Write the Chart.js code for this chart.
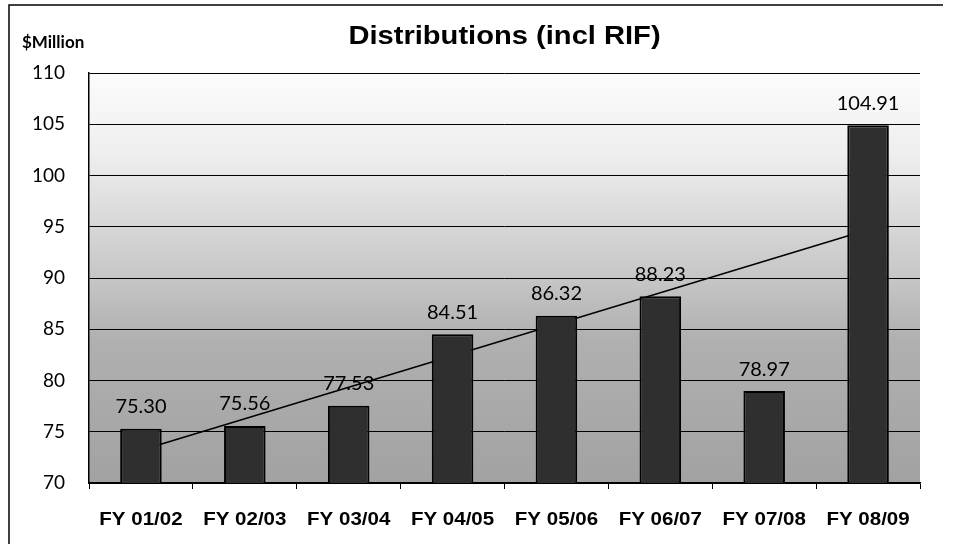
<!DOCTYPE html>
<html>
<head>
<meta charset="utf-8">
<script src="https://cdn.jsdelivr.net/npm/chart.js@4.4.1/dist/chart.umd.min.js"></script>
<style>
  html, body { margin: 0; padding: 0; background: #fff; }
  #wrap { width: 956px; height: 544px; position: relative; }
</style>
</head>
<body>
<div id="wrap"><canvas id="myChart" width="956" height="544"></canvas></div>
<script>
var labels = ['FY 01/02', 'FY 02/03', 'FY 03/04', 'FY 04/05', 'FY 05/06', 'FY 06/07', 'FY 07/08', 'FY 08/09'];
var distributions = [75.30, 75.56, 77.53, 84.51, 86.32, 88.23, 78.97, 104.91];
// trend line at first and last category
var trend = [73.2, null, null, null, null, null, null, 94.7];
var yTicks = [70, 75, 80, 85, 90, 95, 100, 105, 110];

const numFont = 'Lato, "DejaVu Sans", sans-serif';
const boldFont = '"Liberation Sans", Arial, sans-serif';

// text drawn a bit wider, like the scanned original
function wideText(c, txt, x, y, sx) {
  c.save();
  c.translate(x, y);
  c.scale(sx, 1);
  c.fillText(txt, 0, 0);
  c.restore();
}

// stippled background + frame + titles + labels
const decor = {
  id: 'decor',
  beforeDraw(chart) {
    const c = chart.ctx, a = chart.chartArea;
    c.save();
    const g = c.createLinearGradient(0, a.bottom, 0, a.top);
    g.addColorStop(0, '#a2a2a2');
    g.addColorStop(0.35, '#b0b0b0');
    g.addColorStop(0.5, '#c6c6c6');
    g.addColorStop(0.65, '#dadada');
    g.addColorStop(0.8, '#eeeeee');
    g.addColorStop(1, '#fcfcfc');
    c.fillStyle = g;
    c.fillRect(a.left, a.top, a.right - a.left, a.bottom - a.top);
    c.restore();
  },
  afterDraw(chart) {
    const c = chart.ctx, a = chart.chartArea;
    c.save();
    c.strokeStyle = '#000';
    c.lineWidth = 1.5;
    c.beginPath();
    c.moveTo(9, 544);
    c.lineTo(9, 5);
    c.lineTo(943, 5);
    c.stroke();

    c.fillStyle = '#000';
    c.textBaseline = 'middle';
    c.textAlign = 'center';
    c.font = 'bold 26px ' + boldFont;
    wideText(c, 'Distributions (incl RIF)', (a.left + a.right) / 2, 37, 1.12);
    c.textAlign = 'left';
    c.font = 'bold 17px ' + numFont;
    c.fillText('$Million', 22, 43);

    // category labels
    c.textAlign = 'center';
    c.font = 'bold 19px ' + boldFont;
    const xs = chart.scales.x;
    labels.forEach(function (lab, i) {
      wideText(c, lab, xs.getPixelForValue(i), 520, 1.08);
    });

    // value labels above bars
    c.font = '20px ' + numFont;
    chart.getDatasetMeta(1).data.forEach(function (bar, i) {
      c.fillText(distributions[i].toFixed(2), bar.x, bar.y - 22);
    });
    c.restore();
  }
};

new Chart(document.getElementById('myChart'), {
  data: {
    labels: labels,
    datasets: [{
      type: 'line',
      label: 'Trend',
      data: trend,
      spanGaps: true,
      borderColor: '#000',
      borderWidth: 1.5,
      pointRadius: 0,
      order: 1
    }, {
      type: 'bar',
      label: 'Distributions',
      data: distributions,
      backgroundColor: '#2f2f2f',
      borderColor: '#000',
      borderWidth: 2,
      borderSkipped: false,
      barPercentage: 0.4,
      categoryPercentage: 1,
      order: 0
    }]
  },
  options: {
    responsive: false,
    animation: false,
    layout: { padding: { left: 10, right: 36, top: 73, bottom: 0 } },
    plugins: {
      legend: { display: false },
      tooltip: { enabled: false },
      title: { display: false }
    },
    scales: {
      x: {
        offset: true,
        grid: { display: true, drawOnChartArea: false, color: '#000', tickLength: 6, offset: true },
        border: { color: '#000', width: 1.5 },
        ticks: { display: false },
        afterFit: function (scale) { scale.height = 61; }
      },
      y: {
        min: 70,
        max: 110,
        afterBuildTicks: function (scale) {
          scale.ticks = yTicks.map(function (v) { return { value: v }; });
        },
        grid: { color: '#000', lineWidth: 1, drawTicks: false },
        border: { color: '#000', width: 1.5 },
        ticks: {
          color: '#000',
          padding: 24,
          font: { family: numFont, size: 19 }
        },
        afterFit: function (scale) { scale.width = 79; }
      }
    }
  },
  plugins: [decor]
});
</script>
</body>
</html>
